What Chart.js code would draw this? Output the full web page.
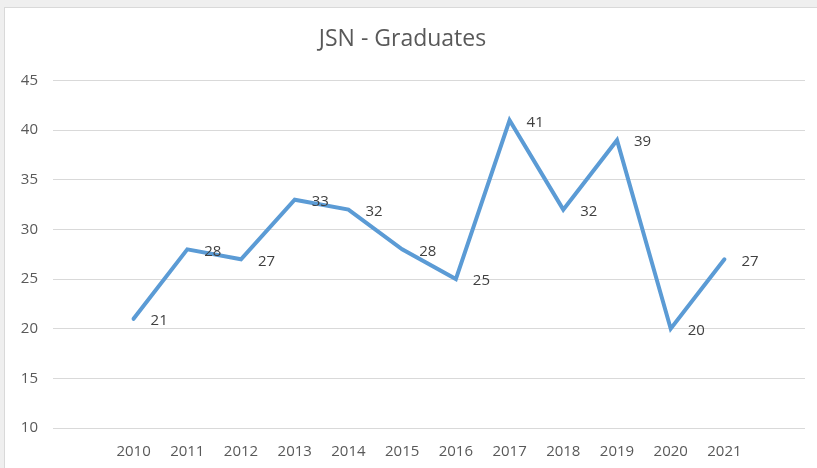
<!DOCTYPE html>
<html>
<head>
<meta charset="utf-8">
<script src="https://cdn.jsdelivr.net/npm/chart.js@4.4.1/dist/chart.umd.min.js"></script>
<style>
	html, body { margin: 0; padding: 0; background: #efefef; overflow: hidden; }
	#frame { position: absolute; left: 4px; top: 7px; width: 830px; height: 480px; background: #fff; border: 1px solid #d9d9d9; }
	#wrap { position: absolute; left: 0; top: 0; width: 817px; height: 468px; }
</style>
</head>
<body>
<div id="frame"></div>
<div id="wrap"><canvas id="graduatesChart"></canvas></div>
<script>
// chart data
var years = [2010, 2011, 2012, 2013, 2014, 2015, 2016, 2017, 2018, 2019, 2020, 2021];
var graduates = [21, 28, 27, 33, 32, 28, 25, 41, 32, 39, 20, 27];
var yTicks = [10, 15, 20, 25, 30, 35, 40, 45];

var fontFamily = "'Open Sans', 'Noto Sans', sans-serif";

// writes the value to the right of each point
var pointLabels = {
	id: 'pointLabels',
	afterDatasetsDraw: function(chart) {
		var ctx = chart.ctx;
		var meta = chart.getDatasetMeta(0);
		ctx.save();
		ctx.font = "15px " + fontFamily;
		ctx.fillStyle = '#404040';
		ctx.textAlign = 'left';
		ctx.textBaseline = 'middle';
		meta.data.forEach(function(pt, i) {
			ctx.fillText(graduates[i], pt.x + 17, pt.y + 2);
		});
		ctx.restore();
	}
};

var points = years.map(function(y, i) { return { x: y, y: graduates[i] }; });

new Chart(document.getElementById('graduatesChart'), {
	type: 'line',
	data: {
		datasets: [{
			label: 'Graduates',
			data: points,
			borderColor: '#5B9BD5',
			borderWidth: 4,
			pointRadius: 0,
			tension: 0,
			fill: false,
			borderCapStyle: 'round',
			borderJoinStyle: 'miter'
		}]
	},
	options: {
		responsive: true,
		maintainAspectRatio: false,
		animation: false,
		layout: { padding: { left: 0, right: 12, top: 0, bottom: 0 } },
		plugins: {
			legend: { display: false },
			tooltip: { enabled: false },
			title: {
				display: true,
				text: 'JSN - Graduates',
				color: '#595959',
				font: { family: fontFamily, size: 23, weight: 'normal' },
				padding: { top: 26, bottom: 27 }
			}
		},
		scales: {
			x: {
				type: 'linear',
				min: 2008.5,
				max: 2022.5,
				afterBuildTicks: function(scale) {
					scale.ticks = years.map(function(v) { return { value: v }; });
				},
				afterFit: function(scale) { scale.height = 40; },
				grid: { display: false, drawTicks: false },
				border: { display: false },
				ticks: {
					color: '#595959',
					padding: 15,
					maxRotation: 0,
					font: { family: fontFamily, size: 15 },
					callback: function(v) { return String(v); }
				}
			},
			y: {
				min: 10,
				max: 45,
				afterBuildTicks: function(scale) {
					scale.ticks = yTicks.map(function(v) { return { value: v }; });
				},
				afterFit: function(scale) { scale.width = 53; },
				grid: { color: '#d9d9d9', lineWidth: 1, drawTicks: false },
				border: { display: false },
				ticks: {
					color: '#595959',
					padding: 15,
					font: { family: fontFamily, size: 15 }
				}
			}
		}
	},
	plugins: [pointLabels]
});
</script>
</body>
</html>
